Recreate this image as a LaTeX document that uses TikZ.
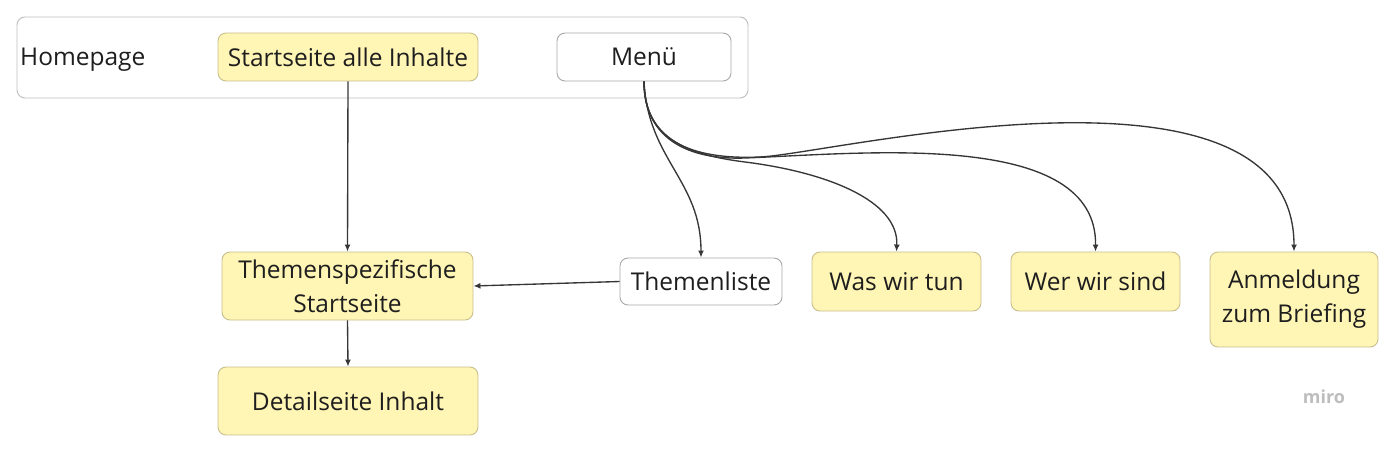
\documentclass[tikz,border=0pt]{standalone}
\usepackage{fontspec}
\setmainfont{Open Sans}
\usetikzlibrary{arrows.meta}
\definecolor{boxyellow}{HTML}{FFF5B5}
\definecolor{yborder}{HTML}{C8BE8C}
\definecolor{wborder}{HTML}{A8A8A8}
\definecolor{oborder}{HTML}{BDBDBD}
\definecolor{linec}{HTML}{363636}
\definecolor{txt}{HTML}{1E1E1E}
\definecolor{logo}{HTML}{BDBDBD}
\tikzset{
  base/.style={rounded corners=8pt, inner sep=0pt, align=center, text=txt,
    font=\fontsize{24.5}{34}\selectfont, line width=0.9pt},
  ybox/.style={base, fill=boxyellow, draw=yborder},
  wbox/.style={base, fill=white, draw=wborder},
  conn/.style={draw=linec, line width=1.35pt, -{Latex[length=7pt,width=6pt]}}
}
\begin{document}
\begin{tikzpicture}[x=1pt,y=-1pt]
\useasboundingbox (0,0) rectangle (1394,452);
\node[draw=oborder, line width=0.9pt, rounded corners=8pt, minimum width=731pt, minimum height=81pt, inner sep=0pt] (outer) at (382.5,57.5) {};
\node[anchor=west, text=txt, font=\fontsize{24.5}{34}\selectfont, inner sep=0pt] (home) at (20,60) {Homepage};
\node[ybox, minimum width=260pt, minimum height=48pt] (start) at (348,57) {Startseite alle Inhalte};
\node[wbox, minimum width=174pt, minimum height=48pt] (menu) at (644,57) {Menü};
\node[ybox, minimum width=251pt, minimum height=68pt] (themen) at (347.5,286) {Themenspezifische\\Startseite};
\node[ybox, minimum width=260pt, minimum height=68pt] (detail) at (348,401) {Detailseite Inhalt};
\node[wbox, minimum width=162pt, minimum height=47pt] (liste) at (701,281.5) {Themenliste};
\node[ybox, minimum width=169pt, minimum height=59pt] (was) at (896.5,281.5) {Was wir tun};
\node[ybox, minimum width=169pt, minimum height=59pt] (wer) at (1095.5,281.5) {Wer wir sind};
\node[ybox, minimum width=168pt, minimum height=95pt] (anm) at (1294,299.5) {Anmeldung\\zum Briefing};
\node[text=logo, font=\fontsize{18}{18}\selectfont\bfseries, inner sep=0pt] (logo) at (1324,397) {miro};

\draw[conn] (start.south) -- (themen.north);
\draw[conn] (themen.south) -- (detail.north);
\draw[conn] (liste.west) -- (themen.east);
\draw[conn] (menu.south) .. controls (648,160) and (701,180) .. (liste.north);
\draw[conn] (menu.south) .. controls (644,140) and (690,155) .. (745,162) .. controls (825,172) and (899,200) .. (was.north);
\draw[conn] (menu.south) .. controls (644,140) and (690,160) .. (745,158) .. controls (870,153) and (1097,130) .. (wer.north);
\draw[conn] (menu.south) .. controls (644,140) and (690,160) .. (760,157) .. controls (830,154) and (1294,40) .. (anm.north);
\end{tikzpicture}
\end{document}
